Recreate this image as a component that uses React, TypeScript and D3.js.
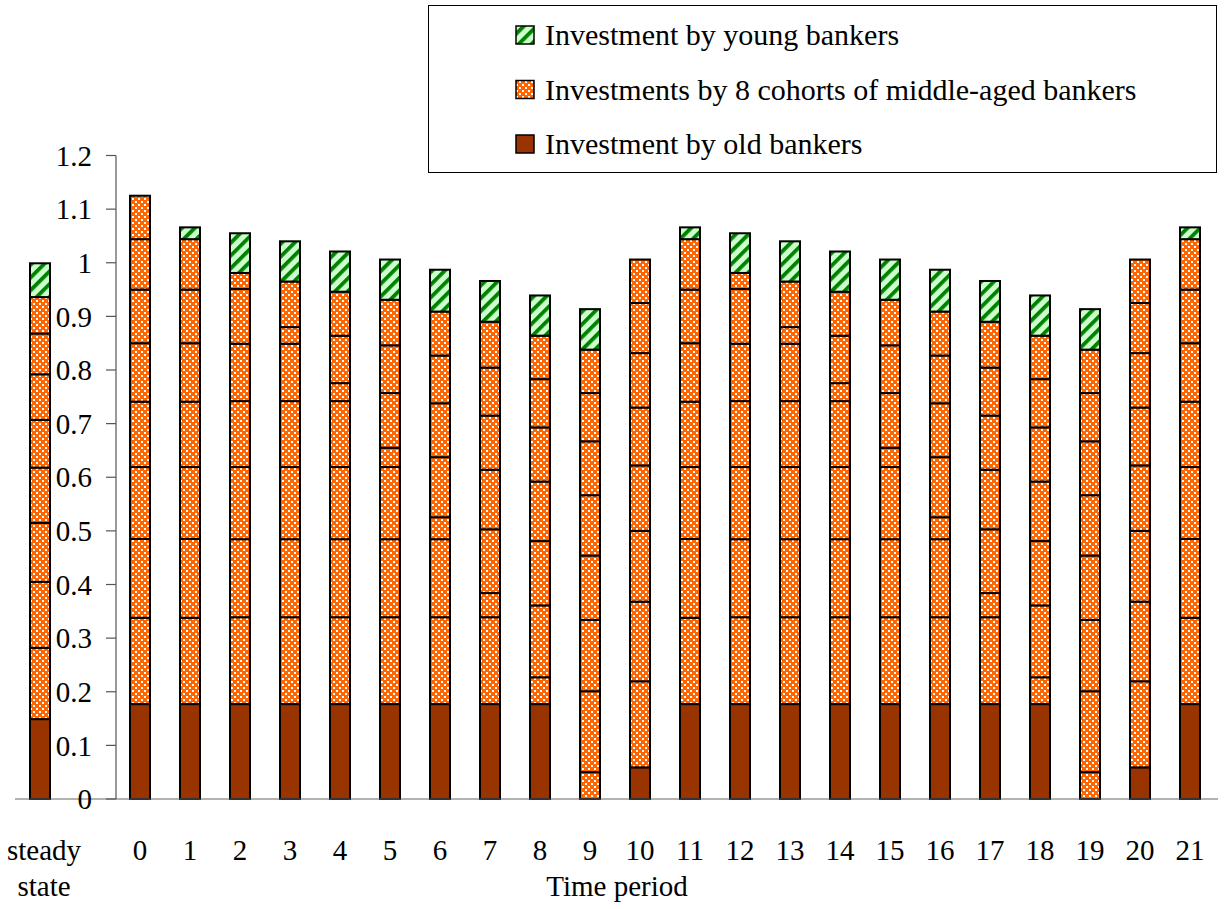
import React, { useEffect, useRef } from 'react';
import * as d3 from 'd3';

// x categories: steady state, then periods 0..21
const periods = ['steady state', '0', '1', '2', '3', '4', '5', '6', '7', '8', '9', '10',
  '11', '12', '13', '14', '15', '16', '17', '18', '19', '20', '21'];

// stacked from the bottom: old, middle-aged (oldest first), young
const oldBankers = [0.149, 0.177, 0.177, 0.177, 0.177, 0.177, 0.177, 0.177, 0.177, 0.177, 0, 0.059,
  0.177, 0.177, 0.177, 0.177, 0.177, 0.177, 0.177, 0.177, 0, 0.059, 0.177];
const middleAge9 = [0.133, 0.161, 0.161, 0.162, 0.162, 0.162, 0.162, 0.162, 0.162, 0, 0.050, 0.1605,
  0.161, 0.162, 0.162, 0.162, 0.162, 0.162, 0.162, 0, 0.050, 0.1605, 0.161];
const middleAge8 = [0.123, 0.147, 0.147, 0.1455, 0.1455, 0.1455, 0.1455, 0.1455, 0, 0.050, 0.151, 0.1485,
  0.147, 0.1455, 0.1455, 0.1455, 0.1455, 0.1455, 0, 0.050, 0.151, 0.1485, 0.147];
const middleAge7 = [0.110, 0.134, 0.134, 0.1345, 0.1345, 0.1345, 0.1345, 0, 0.045, 0.134, 0.133, 0.132,
  0.134, 0.1345, 0.1345, 0.1345, 0.1345, 0, 0.045, 0.134, 0.133, 0.132, 0.134];
const middleAge6 = [0.103, 0.122, 0.122, 0.123, 0.123, 0.123, 0, 0.041, 0.119, 0.120, 0.120, 0.122,
  0.122, 0.123, 0.123, 0.123, 0, 0.041, 0.119, 0.120, 0.120, 0.122, 0.122];
const middleAge5 = [0.089, 0.109, 0.109, 0.107, 0.107, 0, 0.036, 0.112, 0.111, 0.111, 0.1125, 0.108,
  0.109, 0.107, 0.107, 0, 0.036, 0.112, 0.111, 0.111, 0.1125, 0.108, 0.109];
const middleAge4 = [0.085, 0.100, 0.100, 0.102, 0, 0.0335, 0.102, 0.1005, 0.101, 0.101, 0.1005, 0.1015,
  0.100, 0.102, 0, 0.0335, 0.102, 0.1005, 0.101, 0.101, 0.1005, 0.1015, 0.100];
const middleAge3 = [0.076, 0.094, 0.094, 0, 0.031, 0.0885, 0.089, 0.089, 0.0895, 0.090, 0.090, 0.0935,
  0.094, 0, 0.031, 0.0885, 0.089, 0.089, 0.0895, 0.090, 0.090, 0.0935, 0.094];
const middleAge2 = [0.068, 0.081, 0, 0.030, 0.085, 0.082, 0.085, 0.082, 0.0855, 0.081, 0.081, 0.081,
  0, 0.030, 0.085, 0.082, 0.085, 0.082, 0.0855, 0.081, 0.081, 0.081, 0];
const youngBankers = [0.063, 0, 0.022, 0.074, 0.075, 0.075, 0.075, 0.078, 0.076, 0.075, 0.0755, 0,
  0.022, 0.074, 0.075, 0.075, 0.075, 0.078, 0.076, 0.075, 0.0755, 0, 0.022];

const yTicks = [0, 0.1, 0.2, 0.3, 0.4, 0.5, 0.6, 0.7, 0.8, 0.9, 1, 1.1, 1.2];

const legendItems = [
  { label: 'Investment by young bankers', fill: 'url(#youngHatch)' },
  { label: 'Investments by 8 cohorts of middle-aged bankers', fill: 'url(#middleCheck)' },
  { label: 'Investment by old bankers', fill: '#993300' },
];

const keys = ['old', 'm9', 'm8', 'm7', 'm6', 'm5', 'm4', 'm3', 'm2', 'young'];
const FONT = '"Liberation Serif", "Times New Roman", serif';

const App: React.FC = () => {
  const svgRef = useRef<SVGSVGElement>(null);

  useEffect(() => {
    const svg = d3.select(svgRef.current);
    svg.selectAll('*').remove();

    const rows = periods.map((p, i) => ({
      period: p,
      old: oldBankers[i], m9: middleAge9[i], m8: middleAge8[i], m7: middleAge7[i],
      m6: middleAge6[i], m5: middleAge5[i], m4: middleAge4[i], m3: middleAge3[i],
      m2: middleAge2[i], young: youngBankers[i],
    }));

    // patterns
    const defs = svg.append('defs');
    const check = defs.append('pattern')
      .attr('id', 'middleCheck').attr('patternUnits', 'userSpaceOnUse')
      .attr('width', 6).attr('height', 6);
    check.append('rect').attr('width', 6).attr('height', 6).attr('fill', '#ff6600');
    check.append('rect').attr('width', 2).attr('height', 2).attr('fill', '#ffffff');
    check.append('rect').attr('x', 3).attr('y', 3).attr('width', 2).attr('height', 2).attr('fill', '#ffffff');

    const hatch = defs.append('pattern')
      .attr('id', 'youngHatch').attr('patternUnits', 'userSpaceOnUse')
      .attr('width', 9).attr('height', 9).attr('patternTransform', 'rotate(45)');
    hatch.append('rect').attr('width', 9).attr('height', 9).attr('fill', '#ccffcc');
    hatch.append('rect').attr('width', 3.8).attr('height', 9).attr('fill', '#008000');

    const x = d3.scaleBand<string>()
      .domain([periods[0], 'gap', ...periods.slice(1)])
      .range([15, 1215])
      .paddingInner(0.6)
      .paddingOuter(0.3);

    const y = d3.scaleLinear().domain([0, 1.2]).range([799, 155.5]);

    const stacked = d3.stack<any>().keys(keys)(rows);

    const fillFor = (k: string) => k === 'old' ? '#993300' : k === 'young' ? 'url(#youngHatch)' : 'url(#middleCheck)';

    const g = svg.append('g');

    stacked.forEach(layer => {
      g.append('g')
        .selectAll('rect')
        .data(layer.filter(d => d[1] - d[0] > 0))
        .enter().append('rect')
        .attr('x', d => x(d.data.period) as number)
        .attr('width', x.bandwidth())
        .attr('y', d => y(d[1]))
        .attr('height', d => y(d[0]) - y(d[1]))
        .attr('fill', fillFor(layer.key))
        .attr('stroke', '#000')
        .attr('stroke-width', 2);
    });

    // baseline
    g.append('line')
      .attr('x1', 15).attr('x2', 1218)
      .attr('y1', y(0)).attr('y2', y(0))
      .attr('stroke', '#666').attr('stroke-width', 1.2);

    // y axis
    const axisX = 116;
    g.append('line')
      .attr('x1', axisX).attr('x2', axisX)
      .attr('y1', y(0)).attr('y2', y(1.2))
      .attr('stroke', '#555').attr('stroke-width', 1.2);
    g.selectAll('.ytick')
      .data(yTicks)
      .enter().append('line')
      .attr('x1', axisX - 10).attr('x2', axisX)
      .attr('y1', d => y(d)).attr('y2', d => y(d))
      .attr('stroke', '#555').attr('stroke-width', 1.2);
    g.selectAll('.ylabel')
      .data(yTicks)
      .enter().append('text')
      .attr('x', 92)
      .attr('y', d => y(d))
      .attr('dy', '0.35em')
      .attr('text-anchor', 'end')
      .style('font-family', FONT)
      .style('font-size', '29px')
      .text(d => d3.format('~g')(d));

    // x labels
    const xl = g.append('g')
      .style('font-family', FONT)
      .style('font-size', '29px')
      .attr('text-anchor', 'middle');
    periods.forEach(p => {
      const cx = (x(p) as number) + x.bandwidth() / 2;
      if (p === 'steady state') {
        xl.append('text').attr('x', cx + 4).attr('y', 860).text('steady');
        xl.append('text').attr('x', cx + 4).attr('y', 896).text('state');
      } else {
        xl.append('text').attr('x', cx).attr('y', 860).text(p);
      }
    });
    xl.append('text').attr('x', 617).attr('y', 896).text('Time period');

    // legend
    const lg = svg.append('g');
    lg.append('rect')
      .attr('x', 428.5).attr('y', 5.5).attr('width', 788).attr('height', 167)
      .attr('fill', '#fff').attr('stroke', '#000').attr('stroke-width', 1);
    legendItems.forEach((item, i) => {
      const top = 26 + i * 54.5;
      lg.append('rect')
        .attr('x', 516).attr('y', top).attr('width', 18).attr('height', 18)
        .attr('fill', item.fill).attr('stroke', '#000').attr('stroke-width', 1.5);
      lg.append('text')
        .attr('x', 545).attr('y', top + 19)
        .style('font-family', FONT)
        .style('font-size', '30px')
        .text(item.label);
    });
  }, []);

  return (
    <svg ref={svgRef} width={1225} height={909}
      style={{ position: 'absolute', left: 0, top: 0, display: 'block', background: '#fff' }} />
  );
};

export default App;
